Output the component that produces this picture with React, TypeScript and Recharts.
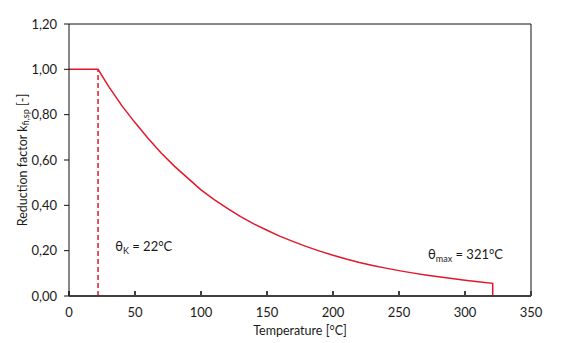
import React from 'react';
import {
  LineChart,
  Line,
  XAxis,
  YAxis,
  ReferenceLine,
  ReferenceDot,
} from 'recharts';

// Characteristic temperatures [°C]
const THETA_K = 22;
const THETA_MAX = 321;

// Temperature [°C] of each curve point
const temperatures = [
  0, 22, 30, 40, 50, 60, 70, 80, 90, 100, 110, 120, 130, 140, 150, 160, 170,
  180, 190, 200, 210, 220, 230, 240, 250, 260, 270, 280, 290, 300, 310, 321, 321,
];
// Reduction factor k_fi,sp [-] at each temperature
const reductionFactors = [
  1.0, 1.0, 0.925, 0.84, 0.765, 0.695, 0.63, 0.572, 0.52, 0.468, 0.425, 0.387,
  0.35, 0.318, 0.29, 0.263, 0.24, 0.218, 0.198, 0.18, 0.163, 0.148, 0.135,
  0.123, 0.112, 0.102, 0.093, 0.085, 0.077, 0.07, 0.063, 0.056, 0,
];

const xTicks = [0, 50, 100, 150, 200, 250, 300, 350];
const yTicks = [0, 0.2, 0.4, 0.6, 0.8, 1.0, 1.2];

const data = temperatures.map((t, i) => ({ t, k: reductionFactors[i] }));

const FONT = 'Lato, "Open Sans", sans-serif';
const RED = '#e0182d';
const TEXT = '#1a1a1a';

const fmtY = (v: number) => v.toFixed(2).replace('.', ',');

const YTitle = (props: any) => {
  const vb = props.viewBox || {};
  const cx = 22;
  const cy = vb.y + vb.height / 2;
  return (
    <text
      x={cx}
      y={cy}
      transform={`rotate(-90, ${cx}, ${cy})`}
      textAnchor="middle"
      dominantBaseline="central"
      fontFamily={FONT}
      fontSize={12.5}
      fill={TEXT}
    >
      Reduction factor k
      <tspan dy={3} fontSize={9}>fi,sp</tspan>
      <tspan dy={-3}> [-]</tspan>
    </text>
  );
};

const ThetaLabel = (sub: string, value: number) => (p: any) => (
  <text x={p.cx} y={p.cy} fontFamily={FONT} fontSize={13} fill={TEXT}>
    θ
    <tspan dy={3} fontSize={9}>{sub}</tspan>
    <tspan dy={-3}>{` = ${value}°C`}</tspan>
  </text>
);

export default function App() {
  return (
    <div style={{ position: 'absolute', left: 0, top: 0, background: '#fff' }}>
      <LineChart
        width={573}
        height={343}
        data={data}
        margin={{ top: 24, right: 42, bottom: 0, left: 0 }}
      >
        <XAxis
          dataKey="t"
          type="number"
          domain={[0, 350]}
          ticks={xTicks}
          interval={0}
          height={47}
          stroke="#404040"
          strokeWidth={2}
          tickSize={-5}
          tickMargin={17}
          tick={{ fill: TEXT, fontSize: 13, fontFamily: FONT }}
          label={{
            value: 'Temperature [°C]',
            position: 'insideBottom',
            offset: 8,
            fill: TEXT,
            fontSize: 12.5,
            fontFamily: FONT,
          }}
        />
        <YAxis
          type="number"
          domain={[0, 1.2]}
          ticks={yTicks}
          interval={0}
          width={69}
          stroke="#111"
          tickSize={5}
          tickMargin={7}
          tickFormatter={fmtY}
          tick={{ fill: TEXT, fontSize: 13, fontFamily: FONT }}
          label={{ content: YTitle }}
        />
        <ReferenceLine y={1.2} stroke="#111" />
        <ReferenceLine x={350} stroke="#111" />
        <ReferenceLine
          segment={[
            { x: THETA_K, y: 0 },
            { x: THETA_K, y: 1 },
          ]}
          stroke={RED}
          strokeWidth={1.5}
          strokeDasharray="5 3"
        />
        <Line
          dataKey="k"
          type="linear"
          stroke={RED}
          strokeWidth={1.5}
          dot={false}
          isAnimationActive={false}
        />
        <ReferenceDot x={35} y={0.2} r={0} shape={ThetaLabel('K', THETA_K)} />
        <ReferenceDot x={272} y={0.163} r={0} shape={ThetaLabel('max', THETA_MAX)} />
      </LineChart>
    </div>
  );
}
